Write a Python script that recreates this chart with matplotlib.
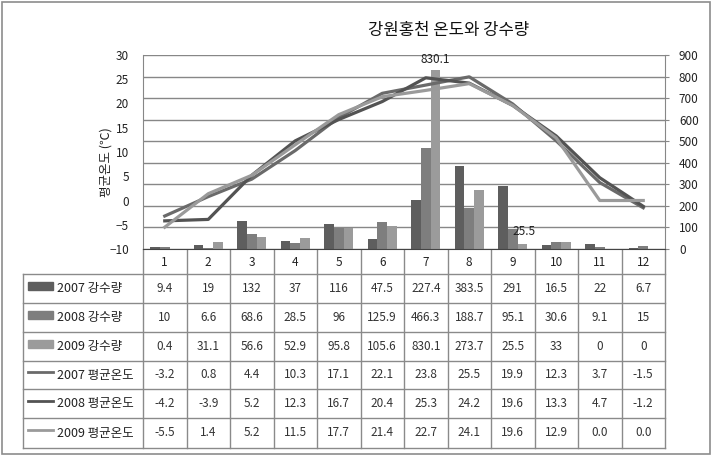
import matplotlib
matplotlib.use("Agg")
from matplotlib import pyplot as plt
from matplotlib.lines import Line2D
from matplotlib.patches import Rectangle
import numpy as np

plt.rcParams['font.family'] = ['Noto Sans CJK KR', 'DejaVu Sans']

months = ['1', '2', '3', '4', '5', '6', '7', '8', '9', '10', '11', '12']
rain2007 = [9.4, 19, 132, 37, 116, 47.5, 227.4, 383.5, 291, 16.5, 22, 6.7]
rain2008 = [10, 6.6, 68.6, 28.5, 96, 125.9, 466.3, 188.7, 95.1, 30.6, 9.1, 15]
rain2009 = [0.4, 31.1, 56.6, 52.9, 95.8, 105.6, 830.1, 273.7, 25.5, 33, 0, 0]
temp2007 = [-3.2, 0.8, 4.4, 10.3, 17.1, 22.1, 23.8, 25.5, 19.9, 12.3, 3.7, -1.5]
temp2008 = [-4.2, -3.9, 5.2, 12.3, 16.7, 20.4, 25.3, 24.2, 19.6, 13.3, 4.7, -1.2]
temp2009 = [-5.5, 1.4, 5.2, 11.5, 17.7, 21.4, 22.7, 24.1, 19.6, 12.9, 0.0, 0.0]

row_names = ['2007 강수량', '2008 강수량', '2009 강수량',
             '2007 평균온도', '2008 평균온도', '2009 평균온도']
row_text = [[str(v) for v in rain2007], [str(v) for v in rain2008],
            [str(v) for v in rain2009], [str(v) for v in temp2007],
            [str(v) for v in temp2008], ['%.1f' % v for v in temp2009]]

bar_cols = ['#5e5e5e', '#7e7e7e', '#9b9b9b']
line_cols = ['#6a6a6a', '#535353', '#9a9a9a']
grid_col = '#878787'

W, H = 713, 457
fig = plt.figure(figsize=(W / 100, H / 100), dpi=100)

# plot area in pixels
pl, pr, pt, pb = 143, 665, 55, 249
ax = fig.add_axes([pl / W, 1 - pb / H, (pr - pl) / W, (pb - pt) / H])
x = np.arange(1, 13)
bw = 0.22
for i, vals in enumerate([rain2007, rain2008, rain2009]):
    ax.bar(x + (i - 1) * bw, vals, bw, color=bar_cols[i], zorder=2)
ax.set_xlim(0.5, 12.5)
ax.set_ylim(0, 900)
ax.set_yticks(range(0, 901, 100))
ax.set_xticks([])
ax.grid(axis='y', color=grid_col, lw=1)
ax.set_axisbelow(True)
ax.spines['top'].set_visible(False)
ax.spines['left'].set_color(grid_col)
ax.spines['right'].set_color(grid_col)
ax.spines['bottom'].set_color('#444444')

ax.annotate('830.1', (7 + bw, 830.1), xytext=(0, 3), textcoords='offset points',
            ha='center', va='bottom', fontsize=8.5, color='#222222', zorder=5)
ax.annotate('25.5', (9 + bw, 25.5), xytext=(1, 4), textcoords='offset points',
            ha='center', va='bottom', fontsize=8.5, color='#222222', zorder=5)

ax2 = ax.twinx()
for i, vals in enumerate([temp2007, temp2008, temp2009]):
    ax2.plot(x, vals, color=line_cols[i], lw=2.3, solid_joinstyle='round')
ax2.set_ylim(-10, 30)
ax2.set_yticks(range(-10, 31, 5))
for s in ax2.spines.values():
    s.set_visible(False)

# swap sides: rain scale on the right, temperature on the left
ax.yaxis.tick_right()
ax.tick_params(axis='y', direction='out', length=3, pad=7, labelsize=8.5,
               color=grid_col, labelcolor='#222222', left=False, labelleft=False,
               right=True, labelright=True)
ax2.yaxis.tick_left()
ax2.tick_params(axis='y', length=0, pad=10, labelsize=8.5, labelcolor='#222222',
                left=True, labelleft=True, right=False, labelright=False)

# overlay in pixel coordinates for table, title and border
ov = fig.add_axes([0, 0, 1, 1], zorder=-1)
ov.set_xlim(0, W)
ov.set_ylim(H, 0)
ov.axis('off')
ov.add_patch(Rectangle((2, 2), 708, 452, fill=False, ec='#8c8c8c', lw=1.2))

ov.text(449, 30, '강원홍천 온도와 강수량', ha='center', va='center',
        fontsize=12, color='#111111')
ov.text(106, 162, '평균온도 (℃)', rotation=90, ha='center', va='center',
        fontsize=9, color='#222222')

cw = (pr - pl) / 12
tl = 23
rows_y = [249, 274, 303, 332, 361, 389, 418, 448]
tc = '#8a8a8a'
# header row (months)
for j in range(13):
    ov.add_line(Line2D([pl + j * cw] * 2, [rows_y[0], rows_y[-1]], color=tc, lw=1))
for j, m in enumerate(months):
    ov.text(pl + (j + 0.5) * cw, 262, m, ha='center', va='center',
            fontsize=8.5, color='#222222')
ov.add_line(Line2D([tl, tl], [rows_y[1], rows_y[-1]], color=tc, lw=1))
for k in range(1, len(rows_y)):
    ov.add_line(Line2D([tl, pr], [rows_y[k]] * 2, color=tc, lw=1))

for r in range(6):
    yc = (rows_y[r + 1] + rows_y[r + 2]) / 2
    if r < 3:
        ov.add_patch(Rectangle((28, yc - 7), 25, 8, color=bar_cols[r]))
    else:
        ov.add_line(Line2D([28, 53], [yc - 3, yc - 3], color=line_cols[r - 3], lw=2))
    ov.text(57, yc, row_names[r], ha='left', va='center', fontsize=9,
            color='#222222')
    for j in range(12):
        ov.text(pl + (j + 0.5) * cw, yc, row_text[r][j], ha='center',
                va='center', fontsize=8.5, color='#333333')

fig.savefig('out.png', dpi=100)
